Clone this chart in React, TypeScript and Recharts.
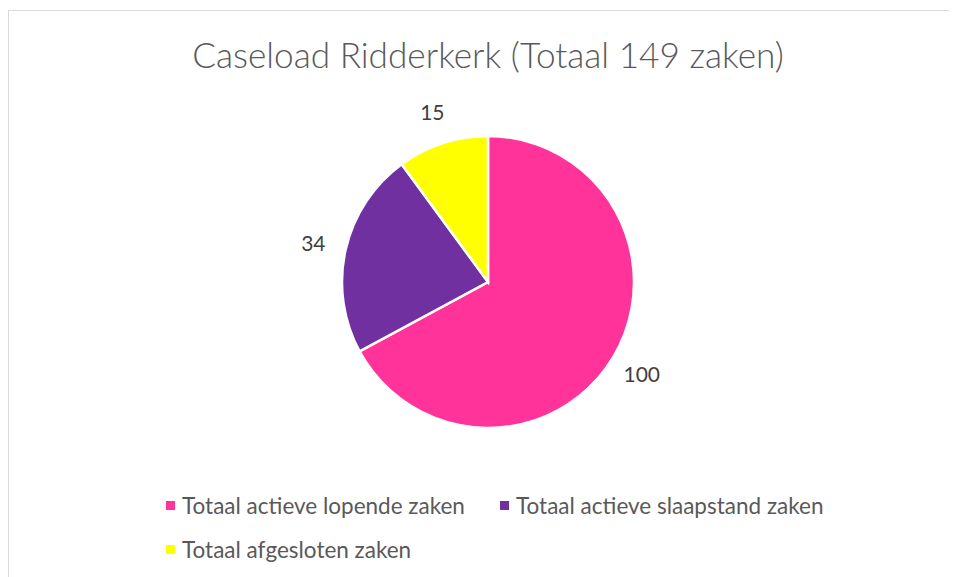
import React, { useEffect } from 'react';
import { PieChart, Pie, Cell, Legend } from 'recharts';

const categories = [
  'Totaal actieve lopende zaken',
  'Totaal actieve slaapstand zaken',
  'Totaal afgesloten zaken',
];
const values = [100, 34, 15];
const colors = ['#FF3399', '#7030A0', '#FFFF00'];

const data = categories.map((name, i) => ({ name, value: values[i] }));

const FONT = 'Lato, "Open Sans", sans-serif';
const RAD = Math.PI / 180;

const renderLabel = (props: any) => {
  const { cx, cy, midAngle, outerRadius, value } = props;
  const r = outerRadius + 33;
  const x = cx + r * Math.cos(-midAngle * RAD);
  const y = cy + r * Math.sin(-midAngle * RAD);
  return (
    <text x={x} y={y} fill="#404040" fontSize={21} fontFamily={FONT} textAnchor="middle" dominantBaseline="central">
      {value}
    </text>
  );
};

const LegendBox = () => (
  <div style={{ fontFamily: FONT, fontSize: 22.5, color: '#595959', position: 'relative', height: 80 }}>
    {data.map((d, i) => {
      const left = i === 1 ? 492 : 158;
      const top = i === 2 ? 44 : 0;
      return (
        <div key={d.name} style={{ position: 'absolute', left, top, display: 'flex', alignItems: 'center', whiteSpace: 'nowrap' }}>
          <span style={{ width: 9, height: 9, background: colors[i], display: 'inline-block', marginRight: 7 }} />
          <span>{d.name}</span>
        </div>
      );
    })}
  </div>
);

const App: React.FC = () => {
  useEffect(() => {
    document.documentElement.style.overflow = 'hidden';
    document.body.style.overflow = 'hidden';
  }, []);

  return (
    <div style={{ position: 'relative', width: 949, height: 569, overflow: 'hidden' }}>
      {/* chart frame: only the top and left edges are visible */}
      <div style={{ position: 'absolute', left: 0, top: 2, width: 949, height: 1, background: '#d9d9d9' }} />
      <div style={{ position: 'absolute', left: 0, top: 2, width: 1, height: 567, background: '#d9d9d9' }} />
      <div style={{ position: 'absolute', left: 0, width: 940, boxSizing: 'border-box', paddingLeft: 20, top: 25, textAlign: 'center', fontFamily: FONT, fontWeight: 300, fontSize: 35.2, color: '#595959', whiteSpace: 'nowrap' }}>
        Caseload Ridderkerk (Totaal 149 zaken)
      </div>
      <div style={{ position: 'absolute', left: 0, top: 0 }}>
        <PieChart width={900} height={560}>
          <Pie
            data={data}
            dataKey="value"
            nameKey="name"
            cx={475}
            cy={269}
            outerRadius={146}
            startAngle={90}
            endAngle={-270}
            stroke="#ffffff"
            strokeWidth={2.5}
            label={renderLabel}
            labelLine={false}
            isAnimationActive={false}
          >
            {data.map((d, i) => (
              <Cell key={d.name} fill={colors[i]} />
            ))}
          </Pie>
          <Legend
            content={<LegendBox />}
            wrapperStyle={{ left: 0, top: 484, width: 900 }}
          />
        </PieChart>
      </div>
    </div>
  );
};

export default App;
